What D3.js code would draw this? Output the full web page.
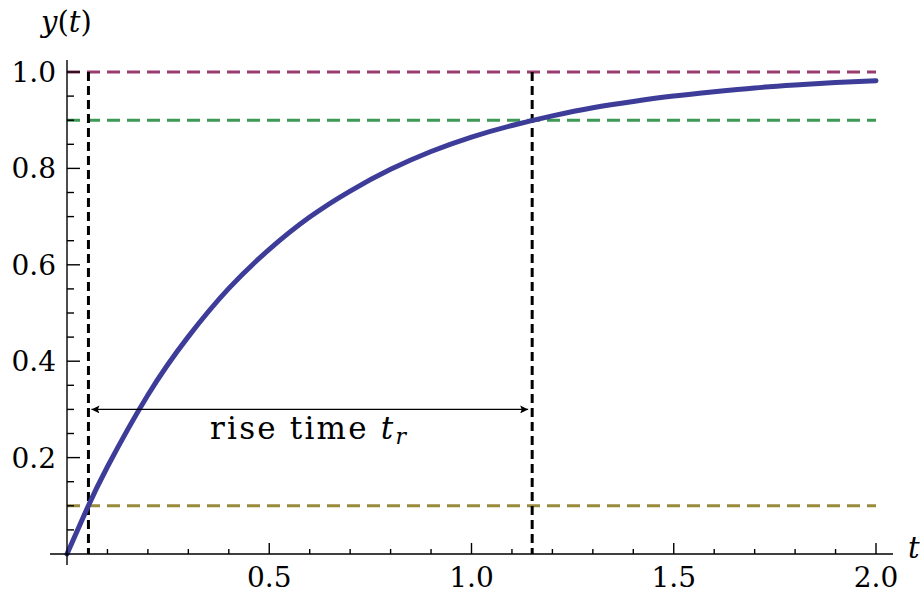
<!DOCTYPE html>
<html>
<head>
<meta charset="utf-8">
<script src="https://cdn.jsdelivr.net/npm/d3@7"></script>
<style>
  body { margin: 0; background: #fff; }
  svg text { font-family: "DejaVu Serif", "Liberation Serif", serif; fill: #000; }
</style>
</head>
<body>
<script>
// values
var tValues = [0, 0.05, 0.1, 0.2, 0.3, 0.4, 0.5, 0.6, 0.7, 0.8, 0.9, 1.0, 1.1, 1.2, 1.3, 1.4, 1.5, 1.6, 1.7, 1.8, 1.9, 2.0];
var yValues = [0, 0.095, 0.181, 0.33, 0.451, 0.551, 0.632, 0.699, 0.753, 0.798, 0.835, 0.865, 0.889, 0.909, 0.926, 0.939, 0.95, 0.959, 0.967, 0.973, 0.978, 0.982];
var levels = [1.0, 0.9, 0.1];
var levelColors = ["#993d71", "#3d9955", "#998b3d"];
var riseStart = 0.053;
var riseEnd = 1.15;
var arrowLevel = 0.3;
var xTicks = [0.5, 1.0, 1.5, 2.0];
var yTicks = [0.2, 0.4, 0.6, 0.8, 1.0];

var svgWidth = 921, svgHeight = 593;
var margin = { top: 72, left: 67 };
var width = 876 - margin.left;
var height = 554 - margin.top;

var svg = d3.select("body").append("svg")
  .attr("width", svgWidth)
  .attr("height", svgHeight);

var g = svg.append("g")
  .attr("transform", `translate(${margin.left}, ${margin.top})`);

var x = d3.scaleLinear().domain([0, 2]).range([0, width]);
var y = d3.scaleLinear().domain([0, 1]).range([height, 0]);

// horizontal reference levels
levels.forEach(function (lv, i) {
  g.append("line")
    .attr("x1", x(0)).attr("x2", x(2))
    .attr("y1", y(lv)).attr("y2", y(lv))
    .attr("stroke", levelColors[i])
    .attr("stroke-width", 3)
    .attr("stroke-dasharray", "13,7");
});

// vertical dashed markers
[riseStart, riseEnd].forEach(function (t) {
  g.append("line")
    .attr("x1", x(t)).attr("x2", x(t))
    .attr("y1", y(1)).attr("y2", y(0))
    .attr("stroke", "#000")
    .attr("stroke-width", 3)
    .attr("stroke-dasharray", "9,5");
});

// the response curve
var line = d3.line()
  .x(function (d, i) { return x(tValues[i]); })
  .y(function (d) { return y(d); })
  .curve(d3.curveNatural);

g.append("path")
  .datum(yValues)
  .attr("d", line)
  .attr("fill", "none")
  .attr("stroke", "#3d3d99")
  .attr("stroke-width", 5)
  .attr("stroke-linecap", "round");

// axes
var xAxisG = g.append("g").attr("transform", `translate(0, ${height})`);
xAxisG.append("line")
  .attr("x1", -17).attr("x2", width + 17)
  .attr("stroke", "#000").attr("stroke-width", 1.4);
d3.range(1, 21).forEach(function (k) {
  var major = k % 5 === 0;
  xAxisG.append("line")
    .attr("x1", x(k / 10)).attr("x2", x(k / 10))
    .attr("y1", 0).attr("y2", major ? -11 : -5)
    .attr("stroke", "#000").attr("stroke-width", 1.4);
});
xAxisG.selectAll("text.xt").data(xTicks).enter().append("text")
  .attr("class", "xt")
  .attr("x", function (d) { return x(d); })
  .attr("y", 33)
  .attr("text-anchor", "middle")
  .attr("font-size", 28)
  .text(function (d) { return d3.format(".1f")(d); });

var yAxisG = g.append("g");
yAxisG.append("line")
  .attr("y1", -12).attr("y2", height + 11)
  .attr("stroke", "#000").attr("stroke-width", 1.4);
d3.range(1, 21).forEach(function (k) {
  var major = k % 4 === 0;
  yAxisG.append("line")
    .attr("y1", y(k / 20)).attr("y2", y(k / 20))
    .attr("x1", 0).attr("x2", major ? 13 : 7)
    .attr("stroke", "#000").attr("stroke-width", 1.4);
});
yAxisG.selectAll("text.yt").data(yTicks).enter().append("text")
  .attr("class", "yt")
  .attr("x", -11)
  .attr("y", function (d) { return y(d); })
  .attr("dy", "0.36em")
  .attr("text-anchor", "end")
  .attr("font-size", 28)
  .text(function (d) { return d3.format(".1f")(d); });

// axis titles
svg.append("text")
  .attr("x", 41).attr("y", 32)
  .attr("font-size", 29)
  .html('<tspan font-style="italic">y</tspan>(<tspan font-style="italic">t</tspan>)');
svg.append("text")
  .attr("x", 908).attr("y", 558)
  .attr("font-size", 29)
  .attr("font-style", "italic")
  .text("t");

// rise time arrow
var defs = svg.append("defs");
defs.append("marker")
  .attr("id", "ah")
  .attr("viewBox", "0 0 10 10")
  .attr("refX", 10).attr("refY", 5)
  .attr("markerWidth", 13).attr("markerHeight", 8)
  .attr("markerUnits", "userSpaceOnUse")
  .attr("orient", "auto-start-reverse")
  .append("path")
  .attr("d", "M0,0 L10,5 L0,10 L2,5 Z")
  .attr("fill", "#000");

g.append("line")
  .attr("x1", x(riseStart) + 3).attr("x2", x(riseEnd) - 4)
  .attr("y1", y(arrowLevel)).attr("y2", y(arrowLevel))
  .attr("stroke", "#000").attr("stroke-width", 1.4)
  .attr("marker-start", "url(#ah)")
  .attr("marker-end", "url(#ah)");

g.append("text")
  .attr("x", 143).attr("y", y(arrowLevel) + 30)
  .attr("font-size", 31)
  .attr("letter-spacing", 2.2)
  .html('rise time <tspan font-style="italic">t</tspan><tspan font-style="italic" font-size="22" dy="5">r</tspan>');
</script>
</body>
</html>
